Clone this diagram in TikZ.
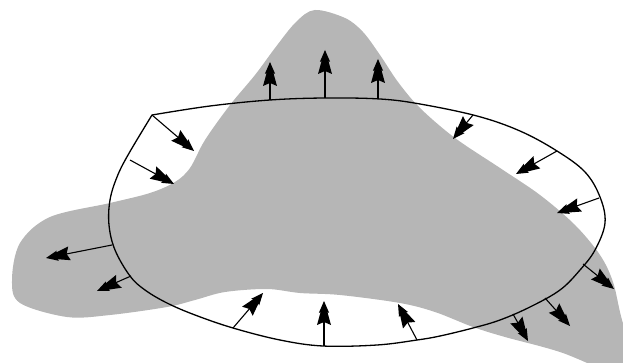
\documentclass[tikz,border=0pt]{standalone}
\usetikzlibrary{calc}
\definecolor{greyfill}{RGB}{182,182,182}
\tikzset{
  shaft/.style={line width=1.1pt, draw=black},
  contour/.style={line width=1.3pt, draw=black}
}
\newcommand\narr[2]{%
 \draw[shaft] (#1) -- ($(#2)!20pt!(#1)$);
 \fill[black] (#2) -- ($(#2)!12pt!(#1)!5.2pt!90:(#1)$) -- ($(#2)!11pt!(#1)!3.4pt!90:(#1)$)
   -- ($(#2)!24pt!(#1)!7pt!90:(#1)$) -- ($(#2)!21pt!(#1)$)
   -- ($(#2)!24pt!(#1)!7pt!-90:(#1)$) -- ($(#2)!11pt!(#1)!3.4pt!-90:(#1)$)
   -- ($(#2)!12pt!(#1)!5.2pt!-90:(#1)$) -- cycle;}
\begin{document}
\begin{tikzpicture}[x=1pt,y=-1pt]
\useasboundingbox (0,0) rectangle (623,363);
\begin{scope}
\clip (0,0) rectangle (623,363);
\fill[greyfill] plot[smooth cycle, tension=0.55] coordinates {
 (315,10) (345,18) (363,32) (380,55) (398,82) (420,108) (455,138) (500,168)
 (540,195) (575,225) (600,255) (613,282) (622,320) (640,380)
 (560,352) (505,337) (473,327) (435,312) (400,303) (340,295) (300,293)
 (267,289) (225,292) (195,300) (167,307) (110,315) (67,317) (20,303)
 (12,280) (20,243) (50,217) (110,203) (150,193) (175,182) (190,168)
 (205,140) (230,105) (255,75) (275,48) (296,22)};
\end{scope}
\draw[contour] plot[smooth, tension=0.6] coordinates {
 (152,115) (210,106) (270,100) (325,98) (380,99) (420,104) (477,116)
 (520,131) (557,151) (585,172) (600,197) (605,223) (595,250) (580,270)
 (560,290) (530,307) (500,320) (473,328) (440,336) (417,340) (377,345)
 (323,346) (280,340) (233,328) (195,315) (167,303) (145,290) (130,276)
 (115,250) (109,225) (110,200) (117,177) (128,155) (152,115)};
% top, outward
\narr{270,100}{270,62}
\narr{325,98}{325,50}
\narr{378,99}{378,59}
% upper left, inward
\narr{152,115}{194,151}
\narr{130,160}{174,184}
% upper right, inward
\narr{473,115}{453,139}
\narr{557,151}{516,174}
\narr{599,198}{557,213}
% lower right, outward
\narr{583,264}{614,289}
\narr{545,298}{570,326}
\narr{513,314}{528,341}
% bottom, inward
\narr{417,340}{398,304}
\narr{324,346}{324,301}
\narr{233,328}{263,293}
% lower left
\narr{131,276}{97,291}
\narr{112,245}{46,258}
\end{tikzpicture}
\end{document}
